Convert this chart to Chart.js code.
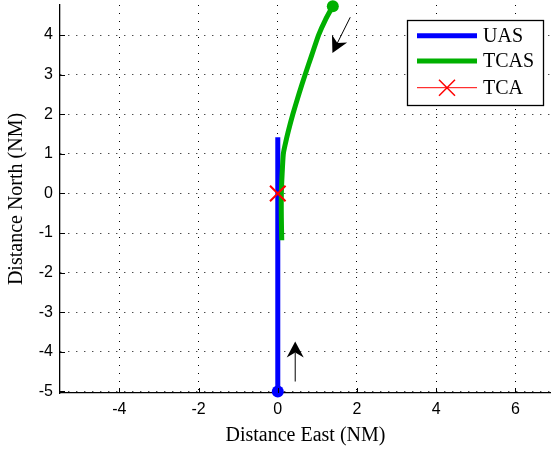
<!DOCTYPE html>
<html>
<head>
<meta charset="utf-8">
<script src="https://cdn.jsdelivr.net/npm/chart.js@4.4.0/dist/chart.umd.min.js"></script>
<style>
  html, body { margin: 0; padding: 0; background: #fff; overflow: hidden; }
</style>
</head>
<body>
<canvas id="mycanvas" width="551" height="455"></canvas>
<script>
// UAS track (straight north along x = 0)
var uasX = [0, 0, 0, 0, 0, 0, 0, 0];
var uasY = [-5, -4, -3, -2, -1, 0, 1, 1.42];
// TCAS intruder track, starting top right
var tcasX = [1.39, 1.2, 1.03, 0.86, 0.69, 0.53, 0.38, 0.26, 0.19, 0.14, 0.11, 0.09, 0.09, 0.1];
var tcasY = [4.73, 4.38, 4.0, 3.5, 3.0, 2.5, 2.0, 1.55, 1.25, 1.0, 0.5, 0.0, -0.6, -1.18];
// time of closest approach
var tcaX = [0];
var tcaY = [0];
// direction arrows: tail -> tip
var arrowTail = [[0.44, -4.75], [1.83, 4.45]];
var arrowTip = [[0.44, -3.74], [1.38, 3.55]];

var xTickVals = [-4, -2, 0, 2, 4, 6];
var yTickVals = [-5, -4, -3, -2, -1, 0, 1, 2, 3, 4];

function toPoints(xs, ys) {
  var pts = [];
  for (var i in xs) pts.push({x: xs[i], y: ys[i]});
  return pts;
}

var serif = "'Liberation Serif', 'Times New Roman', serif";
var sans = "'Liberation Sans', Arial, sans-serif";

var extras = {
  id: 'extras',
  afterDatasetsDraw: function(chart) {
    var ctx = chart.ctx;
    var xs = chart.scales.x, ys = chart.scales.y;
    var area = chart.chartArea;
    ctx.save();
    // inward tick marks
    ctx.strokeStyle = '#000';
    ctx.lineWidth = 1;
    ctx.beginPath();
    xTickVals.forEach(function(v) {
      var px = Math.round(xs.getPixelForValue(v)) + 0.5;
      ctx.moveTo(px, area.bottom);
      ctx.lineTo(px, area.bottom - 5);
    });
    yTickVals.forEach(function(v) {
      var py = Math.round(ys.getPixelForValue(v)) + 0.5;
      ctx.moveTo(area.left, py);
      ctx.lineTo(area.left + 5, py);
    });
    ctx.stroke();

    // arrows
    ctx.fillStyle = '#000';
    for (var i = 0; i < arrowTail.length; i++) {
      var x0 = xs.getPixelForValue(arrowTail[i][0]), y0 = ys.getPixelForValue(arrowTail[i][1]);
      var x1 = xs.getPixelForValue(arrowTip[i][0]), y1 = ys.getPixelForValue(arrowTip[i][1]);
      var a = Math.atan2(y1 - y0, x1 - x0);
      var len = 16, half = 8.5, notch = 11;
      var cx = Math.cos(a), sy = Math.sin(a);
      ctx.beginPath();
      ctx.moveTo(x0, y0);
      ctx.lineTo(x1 - cx * notch, y1 - sy * notch);
      ctx.stroke();
      ctx.beginPath();
      ctx.moveTo(x1, y1);
      ctx.lineTo(x1 - cx * len - sy * half, y1 - sy * len + cx * half);
      ctx.lineTo(x1 - cx * notch, y1 - sy * notch);
      ctx.lineTo(x1 - cx * len + sy * half, y1 - sy * len - cx * half);
      ctx.closePath();
      ctx.fill();
    }

    // legend box
    var bx = 407, by = 20, bw = 136, bh = 85;
    ctx.fillStyle = '#fff';
    ctx.fillRect(bx, by, bw, bh);
    ctx.strokeStyle = '#000';
    ctx.lineWidth = 1.3;
    ctx.strokeRect(bx + 0.5, by + 0.5, bw, bh);
    var rows = [35.7, 61, 87.7];
    chart.data.datasets.forEach(function(ds, k) {
      var ly = rows[k];
      ctx.strokeStyle = ds.borderColor;
      ctx.lineWidth = ds.legendWidth;
      ctx.beginPath();
      ctx.moveTo(417, ly);
      ctx.lineTo(477, ly);
      ctx.stroke();
      if (ds.pointStyle === 'cross') {
        ctx.lineWidth = 1.5;
        ctx.beginPath();
        ctx.moveTo(447 - 8, ly - 8); ctx.lineTo(447 + 8, ly + 8);
        ctx.moveTo(447 - 8, ly + 8); ctx.lineTo(447 + 8, ly - 8);
        ctx.stroke();
      }
      ctx.fillStyle = '#000';
      ctx.font = '20px ' + serif;
      ctx.textBaseline = 'middle';
      ctx.textAlign = 'left';
      ctx.fillText(ds.label, 483, ly + 1);
    });
    ctx.restore();
  }
};

var ctx = document.getElementById('mycanvas');
var chart = new Chart(ctx, {
  type: 'scatter',
  data: {
    datasets: [
      {
        label: 'UAS',
        data: toPoints(uasX, uasY),
        showLine: true,
        order: 2,
        borderColor: '#0000ff',
        backgroundColor: '#0000ff',
        borderWidth: 5,
        legendWidth: 5,
        pointRadius: function(c) { return c.dataIndex === 0 ? 6 : 0; },
        pointBorderWidth: 0,
        clip: false
      },
      {
        label: 'TCAS',
        data: toPoints(tcasX, tcasY),
        showLine: true,
        order: 1,
        borderColor: '#00b000',
        backgroundColor: '#00b000',
        borderWidth: 5,
        legendWidth: 5,
        tension: 0.2,
        pointRadius: function(c) { return c.dataIndex === 0 ? 6 : 0; },
        pointBorderWidth: 0,
        clip: false
      },
      {
        label: 'TCA',
        data: toPoints(tcaX, tcaY),
        showLine: false,
        order: 0,
        borderColor: '#ff0000',
        backgroundColor: '#ff0000',
        legendWidth: 1,
        pointStyle: 'cross',
        rotation: 45,
        pointRadius: 11,
        pointBorderWidth: 2,
        clip: false
      }
    ]
  },
  options: {
    responsive: false,
    animation: false,
    devicePixelRatio: 1,
    layout: { autoPadding: false, padding: { top: 5, right: 0, left: 0, bottom: 0 } },
    plugins: { legend: { display: false }, tooltip: { enabled: false } },
    scales: {
      x: {
        type: 'linear',
        min: -5.5,
        max: 6.9,
        afterBuildTicks: function(s) { s.ticks = xTickVals.map(function(v) { return {value: v}; }); },
        afterFit: function(s) { s.height = 62; s.paddingLeft = 0; s.paddingRight = 0; },
        ticks: { color: '#000', padding: 7, font: { family: sans, size: 16 }, maxRotation: 0, autoSkip: false },
        grid: { color: '#000', lineWidth: 1, drawTicks: false },
        border: { color: '#000', width: 1.3, dash: [1, 7] },
        title: { display: true, text: 'Distance East (NM)', color: '#000', font: { family: serif, size: 20 }, padding: { bottom: 7, top: 0 } }
      },
      y: {
        type: 'linear',
        min: -5.04,
        max: 4.76,
        afterBuildTicks: function(s) { s.ticks = yTickVals.map(function(v) { return {value: v}; }); },
        afterFit: function(s) { s.width = 60; s.paddingTop = 0; s.paddingBottom = 0; },
        ticks: { color: '#000', padding: 7, font: { family: sans, size: 16 }, autoSkip: false },
        grid: { color: '#000', lineWidth: 1, drawTicks: false },
        border: { color: '#000', width: 1.3, dash: [1, 7] },
        title: { display: true, text: 'Distance North (NM)', color: '#000', font: { family: serif, size: 20 }, padding: { top: 5, bottom: 0 } }
      }
    }
  },
  plugins: [extras]
});
</script>
</body>
</html>
